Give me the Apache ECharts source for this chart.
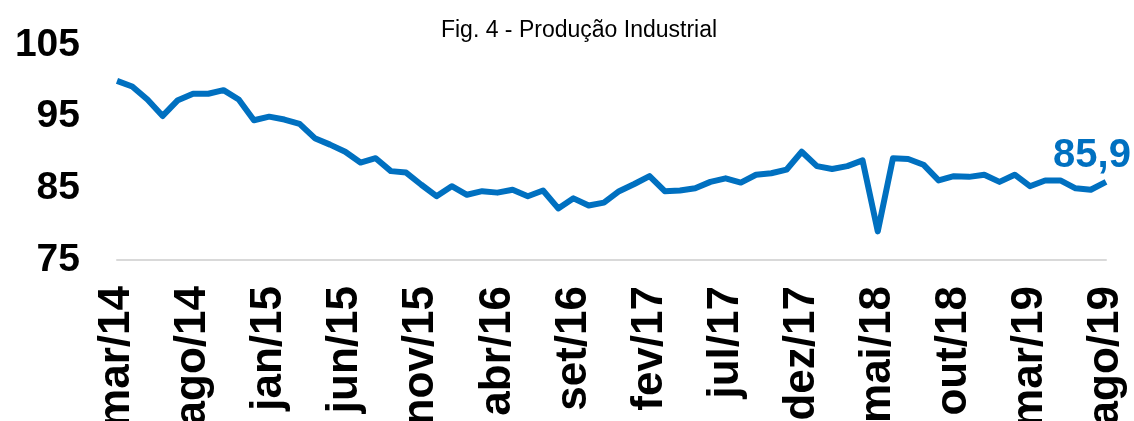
<!DOCTYPE html>
<html>
<head>
<meta charset="utf-8">
<script src="https://cdn.jsdelivr.net/npm/echarts@6/dist/echarts.min.js"></script>
<style>
  html, body { margin: 0; padding: 0; background: #fff; }
  #main { width: 1134px; height: 421px; }
</style>
</head>
<body>
<div id="main"></div>
<script>
// month names (pt-BR) and the first month / year of the series
const monthNames = ["jan", "fev", "mar", "abr", "mai", "jun", "jul", "ago", "set", "out", "nov", "dez"];
const startMonth = 2; // mar
const startYear = 14;

// Produção industrial, índice (mar/14 .. ago/19)
const producao = [
  100.0, 99.2, 97.4, 95.1, 97.3, 98.2, 98.2, 98.7, 97.4, 94.5,
  95.0, 94.6, 94.0, 92.0, 91.1, 90.1, 88.6, 89.2, 87.4, 87.2,
  85.5, 83.9, 85.3, 84.1, 84.6, 84.4, 84.8, 83.9, 84.7, 82.2,
  83.6, 82.6, 83.0, 84.6, 85.6, 86.7, 84.6, 84.7, 85.0, 85.9,
  86.4, 85.8, 86.9, 87.1, 87.6, 90.1, 88.1, 87.7, 88.1, 88.9,
  79.0, 89.2, 89.1, 88.3, 86.1, 86.7, 86.6, 86.9, 85.9, 86.9,
  85.3, 86.1, 86.1, 85.0, 84.8, 85.9
];

const yTicks = [75, 85, 95, 105];

const meses = [];
for (let i = 0; i < producao.length; i++) {
  let m = startMonth + i;
  meses.push(monthNames[m % 12] + "/" + (startYear + Math.floor(m / 12)));
}

const blue = "#0070C0";
const font = "Liberation Sans, Arial, sans-serif";

var chart = echarts.init(document.getElementById("main"));
var option = {
  animation: false,
  title: {
    text: "Fig. 4 - Produção Industrial",
    left: 574,
    textAlign: "center",
    top: 14,
    textStyle: {
      fontFamily: font,
      fontSize: 23,
      fontWeight: "normal",
      color: "#000"
    }
  },
  grid: {
    left: 117,
    right: 28,
    top: 45,
    bottom: 161,
    containLabel: false,
    outerBoundsMode: "none"
  },
  xAxis: {
    type: "category",
    data: meses,
    boundaryGap: false,
    axisLine: { lineStyle: { color: "#D9D9D9", width: 2 } },
    axisTick: { show: false },
    axisLabel: {
      interval: 4,
      rotate: 90,
      margin: 26,
      color: "#000",
      fontSize: 44,
      fontWeight: "bold",
      fontFamily: font
    }
  },
  yAxis: {
    type: "value",
    min: yTicks[0],
    max: yTicks[yTicks.length - 1],
    interval: 10,
    axisLine: { show: false },
    axisTick: { show: false },
    splitLine: { show: false },
    axisLabel: {
      margin: 37,
      color: "#000",
      fontSize: 39,
      fontWeight: "bold",
      fontFamily: font
    }
  },
  series: [
    {
      type: "line",
      data: producao,
      symbol: "none",
      lineStyle: { color: blue, width: 6, join: "round" },
      itemStyle: { color: blue },
      // value of the last month above the line end
      endLabel: {
        show: true,
        distance: 0,
        align: "center",
        verticalAlign: "bottom",
        offset: [-14, -6],
        formatter: p => String(p.value).replace(".", ","),
        color: blue,
        fontSize: 40,
        fontWeight: "bold",
        fontFamily: font
      }
    }
  ]
};

chart.setOption(option);
</script>
</body>
</html>
